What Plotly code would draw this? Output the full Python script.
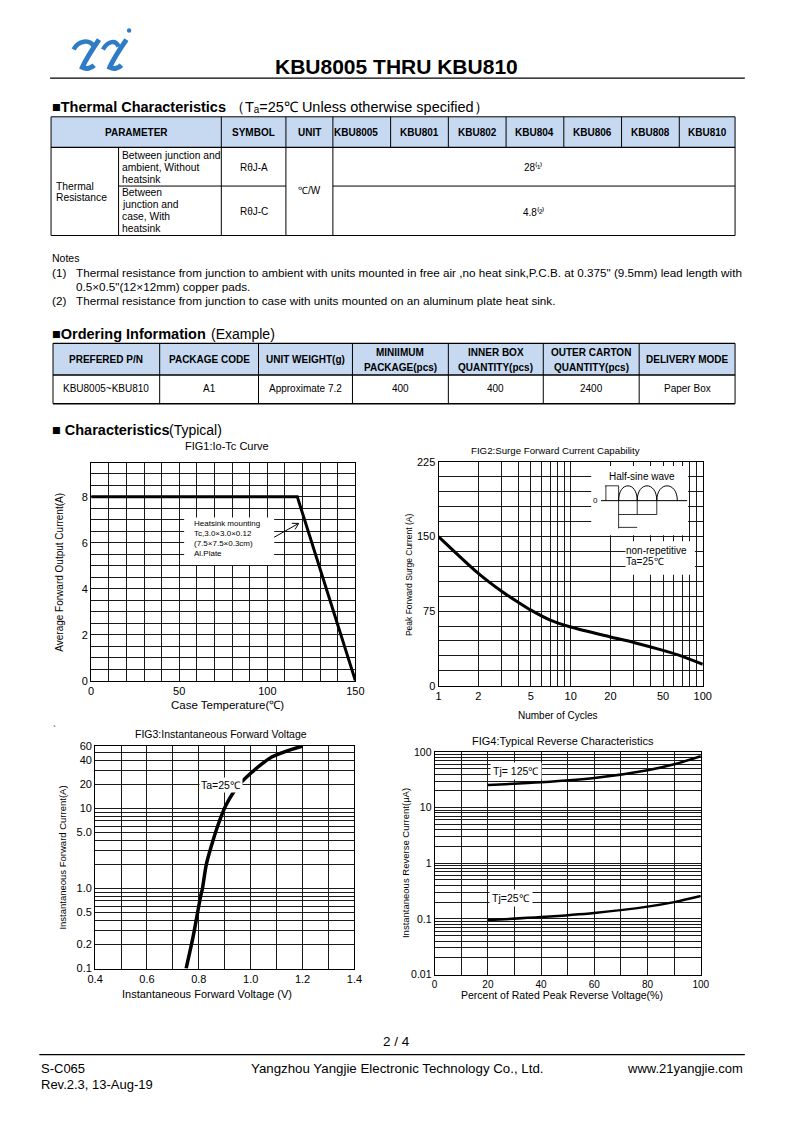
import math
import plotly.graph_objects as go

W, H = 793, 1122
FONT = "Liberation Sans"
HEAD_BLUE = "#C6D9F1"
LOGO_BLUE = "#2F7CC6"

# ---------------- data ----------------
thermal_header = ["PARAMETER", "SYMBOL", "UNIT", "KBU8005", "KBU801", "KBU802",
                  "KBU804", "KBU806", "KBU808", "KBU810"]
thermal_row1_param = ["Between junction and", "ambient, Without", "heatsink"]
thermal_row2_param = ["Between", "junction and", "case, With", "heatsink"]
thermal_symbols = ["RθJ-A", "RθJ-C"]
thermal_unit = "℃/W"
thermal_values = ["28⁽¹⁾", "4.8⁽²⁾"]

order_header = [["PREFERED P/N"], ["PACKAGE CODE"], ["UNIT WEIGHT(g)"],
                ["MINIIMUM", "PACKAGE(pcs)"], ["INNER BOX", "QUANTITY(pcs)"],
                ["OUTER CARTON", "QUANTITY(pcs)"], ["DELIVERY MODE"]]
order_row = ["KBU8005~KBU810", "A1", "Approximate 7.2", "400", "400", "2400", "Paper Box"]

# FIG1: Io - Tc
fig1_tc = [0, 117, 150]
fig1_io = [8, 8, 0]
# FIG2: surge current vs cycles
fig2_cycles = [1, 2, 3, 4, 5, 7, 10, 20, 30, 50, 70, 100]
fig2_ifsm = [150, 113, 95, 84, 76, 66, 59, 49, 43.5, 35.5, 29.5, 21.5]
# FIG3: forward voltage
fig3_vf = [0.751, 0.778, 0.807, 0.814, 0.829, 0.855, 0.880, 0.905, 0.957, 1.019, 1.083, 1.2]
fig3_if = [0.1, 0.25, 0.8, 1.0, 2.0, 4.0, 7.0, 11, 20, 31, 44, 60]
# FIG4: reverse characteristics
fig4_pct = [20, 40, 60, 80, 90, 100]
fig4_ir_125 = [25.5, 28.5, 34, 47, 60, 84]
fig4_ir_25 = [0.095, 0.108, 0.128, 0.166, 0.20, 0.257]

# ---------------- helpers (page pixel -> paper) ----------------
def px(x):
    return x / W


def py(y):
    return 1 - y / H


shapes = []
annotations = []


def seg(x0, y0, x1, y1, w=1, color="black"):
    shapes.append(dict(type="line", xref="paper", yref="paper", x0=px(x0), x1=px(x1),
                       y0=py(y0), y1=py(y1), line=dict(color=color, width=w)))


def hline(x0, x1, y, w=1, color="black"):
    seg(x0, y, x1, y, w, color)


def vline(x, y0, y1, w=1, color="black"):
    seg(x, y0, x, y1, w, color)


def rect(x0, y0, x1, y1, fill="white", lw=0, lc="black"):
    shapes.append(dict(type="rect", xref="paper", yref="paper", x0=px(x0), x1=px(x1),
                       y0=py(y0), y1=py(y1), fillcolor=fill,
                       line=dict(color=lc, width=lw)))


def path(d, w=1, color="black"):
    shapes.append(dict(type="path", xref="paper", yref="paper", path=d,
                       line=dict(color=color, width=w)))


def P(x, y):
    return f"{px(x):.5f},{py(y):.5f}"


def text(x, y, s, size=10, anchor="left", bold=False, color="black", angle=0,
         bg=None, family=FONT, pad=0):
    a = dict(xref="paper", yref="paper", x=px(x), y=py(y),
             text=(f"<b>{s}</b>" if bold else s), showarrow=False,
             xanchor=anchor, yanchor="middle", textangle=angle, borderpad=pad,
             font=dict(size=size, color=color, family=family))
    if bg:
        a["bgcolor"] = bg
    annotations.append(a)


# ---------------- header / logo ----------------
path(f"M{P(67, 44)} C{P(72, 35)} {P(83, 33)} {P(88, 41)}", w=4.5, color=LOGO_BLUE)
path(f"M{P(93, 34)} C{P(86, 44)} {P(80, 53)} {P(76, 62)} C{P(80, 64)} {P(85, 63)} {P(88, 60)}",
     w=5, color=LOGO_BLUE)
path(f"M{P(97, 44)} C{P(102, 35)} {P(110, 34)} {P(113, 41)}", w=4.5, color=LOGO_BLUE)
path(f"M{P(121, 34)} C{P(114, 44)} {P(108, 53)} {P(104, 62)} C{P(108, 64)} {P(113, 63)} {P(116, 60)}",
     w=5, color=LOGO_BLUE)
shapes.append(dict(type="circle", xref="paper", yref="paper", x0=px(121.5), x1=px(126),
                   y0=py(22.5), y1=py(27), fillcolor=LOGO_BLUE, line=dict(width=0)))

text(397, 61, "KBU8005 THRU KBU810", size=21, anchor="center", bold=True)
hline(43, 753, 73, w=1.2)

# ---------------- thermal characteristics ----------------
text(44, 102, "■Thermal Characteristics", size=14.5, bold=True)
text(226, 102, "（Tₐ=25℃ Unless otherwise specified）", size=14.5)

tx = [44, 218, 284, 332, 391, 450, 509, 568, 627, 686, 743]
ty0, ty1, ty2, ty3 = 112, 143, 182, 232
rect(44, ty0, 743, ty1, fill=HEAD_BLUE)
hline(44, 743, ty0)
hline(44, 743, ty1, w=1.3)
hline(44, 743, ty3)
for x in tx:
    vline(x, ty0, ty3 if x in (44, 218, 284, 332, 743) else ty1)
vline(113, ty1, ty3)
hline(113, 284, ty2)
hline(332, 743, ty2)
for i, lab in enumerate(thermal_header):
    cx = (tx[i] + tx[i + 1]) / 2
    if lab == "KBU8005":
        cx = 356
    text(cx, 128, lab, size=10, anchor="center", bold=True)
for k, line in enumerate(thermal_row1_param):
    text(115, 151 + 12 * k, line, size=10.3)
for k, line in enumerate(thermal_row2_param):
    text(115, 189 + 12 * k, line, size=10.3)
text(48, 182, "Thermal", size=10.3)
text(48, 194, "Resistance", size=10.3)
text(251, 163, thermal_symbols[0], size=10, anchor="center")
text(251, 208, thermal_symbols[1], size=10, anchor="center")
text(308, 187, thermal_unit, size=10, anchor="center")
text(537, 163, thermal_values[0], size=10, anchor="center")
text(537, 208, thermal_values[1], size=10, anchor="center")

# notes
text(44, 255, "Notes", size=10.5)
text(44, 269, "(1)", size=11.7)
text(68, 269, "Thermal resistance from junction to ambient with units mounted in free air ,no heat sink,P.C.B. at 0.375\" (9.5mm) lead length with", size=11.7)
text(68, 284, "0.5×0.5\"(12×12mm) copper pads.", size=11.7)
text(44, 298, "(2)", size=11.7)
text(68, 298, "Thermal resistance from junction to case with units mounted on an aluminum plate heat sink.", size=11.7)

# ---------------- ordering information ----------------
text(44, 332, "■Ordering Information", size=14.5, bold=True)
text(206, 332, "(Example)", size=14)
ox = [46, 155, 256, 352, 450, 547, 645, 743]
oy0, oy1, oy2 = 341, 373, 402
rect(46, oy0, 743, oy1, fill=HEAD_BLUE)
hline(46, 743, oy0, w=1.3)
hline(46, 743, oy1, w=1.3)
hline(46, 743, oy2, w=1.6)
for x in ox:
    vline(x, oy0, oy2)
for i, lines in enumerate(order_header):
    cx = (ox[i] + ox[i + 1]) / 2
    if len(lines) == 1:
        text(cx, 357, lines[0], size=10, anchor="center", bold=True)
    else:
        text(cx, 350, lines[0], size=10, anchor="center", bold=True)
        text(cx, 365, lines[1], size=10, anchor="center", bold=True)
for i, val in enumerate(order_row):
    cx = (ox[i] + ox[i + 1]) / 2
    text(cx, 387, val, size=10, anchor="center")

text(44, 429, "■ Characteristics", size=14.5, bold=True)
text(164, 429, "(Typical)", size=14)

# ---------------- figures ----------------
GRID = "#1a1a1a"
TICKF = dict(size=11, color="black", family=FONT)


def xaxis(x0, x1, **kw):
    d = dict(domain=[px(x0), px(x1)], showline=True, mirror=True, linecolor="black",
             linewidth=1, showgrid=True, gridcolor=GRID, gridwidth=1, zeroline=False,
             ticks="", tickfont=TICKF, fixedrange=True, tickmode="array")
    d.update(kw)
    return d


def yaxis(y_top, y_bot, **kw):
    d = dict(domain=[py(y_bot), py(y_top)], showline=True, mirror=True, linecolor="black",
             linewidth=1, showgrid=True, gridcolor=GRID, gridwidth=1, zeroline=False,
             ticks="", tickfont=TICKF, fixedrange=True, tickmode="array")
    d.update(kw)
    return d


def lab(vals, shown, fmt=str):
    return [fmt(v) if any(abs(v - s) < 1e-9 for s in shown) else "" for v in vals]


# grid positions
f1x = list(range(0, 151, 10))
f1y = [i * 0.5 for i in range(0, 19)]
f2x = [1, 2, 3, 4, 5, 6, 7, 8, 9, 10, 20, 30, 40, 50, 60, 70, 80, 90, 100]
f2y = list(range(0, 226, 15))
f3x = [round(0.4 + 0.1 * i, 1) for i in range(11)]
f3y = [round(m * 10 ** e, 3) for e in (-1, 0) for m in range(1, 10)] + [10, 20, 30, 40, 50, 60]
f4x = list(range(0, 101, 10))
f4y = [round(m * 10 ** e, 4) for e in (-2, -1, 0, 1) for m in range(1, 10)] + [100]

fig = go.Figure()
fig.add_trace(go.Scatter(x=fig1_tc, y=fig1_io, mode="lines", xaxis="x", yaxis="y",
                         line=dict(color="black", width=3), showlegend=False,
                         hoverinfo="skip"))
fig.add_trace(go.Scatter(x=fig2_cycles, y=fig2_ifsm, mode="lines", xaxis="x2", yaxis="y2",
                         line=dict(color="black", width=3, shape="spline", smoothing=0.8),
                         showlegend=False, hoverinfo="skip"))
fig.add_trace(go.Scatter(x=fig3_vf, y=fig3_if, mode="lines", xaxis="x3", yaxis="y3",
                         line=dict(color="black", width=3.5, shape="spline", smoothing=0.8),
                         showlegend=False, hoverinfo="skip"))
fig.add_trace(go.Scatter(x=fig4_pct, y=fig4_ir_125, mode="lines", xaxis="x4", yaxis="y4",
                         line=dict(color="black", width=2.5, shape="spline", smoothing=0.8),
                         showlegend=False, hoverinfo="skip"))
fig.add_trace(go.Scatter(x=fig4_pct, y=fig4_ir_25, mode="lines", xaxis="x4", yaxis="y4",
                         line=dict(color="black", width=2.5, shape="spline", smoothing=0.8),
                         showlegend=False, hoverinfo="skip"))

fig.update_layout(
    xaxis=xaxis(85, 355, anchor="y", range=[0, 150], tickvals=f1x,
                ticktext=lab(f1x, [0, 50, 100, 150])),
    yaxis=yaxis(462, 682, anchor="x", range=[0, 9.46], tickvals=f1y,
                ticktext=lab(f1y, [0, 2, 4, 6, 8], lambda v: str(int(v)))),
    xaxis2=xaxis(440, 710, anchor="y2", type="log", range=[0, 2], tickvals=f2x,
                 ticktext=lab(f2x, [1, 2, 5, 10, 20, 50, 100])),
    yaxis2=yaxis(461, 687, anchor="x2", range=[0, 225], tickvals=f2y,
                 ticktext=lab(f2y, [0, 75, 150, 225])),
    xaxis3=xaxis(89, 354, anchor="y3", range=[0.4, 1.4], tickvals=f3x,
                 ticktext=lab(f3x, [0.4, 0.6, 0.8, 1.0, 1.2, 1.4], lambda v: f"{v:.1f}")),
    yaxis3=yaxis(748, 973, anchor="x3", type="log", range=[-1, math.log10(60)],
                 tickvals=f3y,
                 ticktext=lab(f3y, [0.1, 0.2, 0.5, 1.0, 5.0, 10, 20, 40, 60],
                              lambda v: f"{v:.1f}" if v < 10 else str(int(v)))),
    xaxis4=xaxis(436, 708, anchor="y4", range=[0, 100], tickvals=f4x,
                 ticktext=lab(f4x, [0, 20, 40, 60, 80, 100]),
                 tickfont=dict(size=10, color="black", family=FONT)),
    yaxis4=yaxis(754, 979, anchor="x4", type="log", range=[-2, 2], tickvals=f4y,
                 ticktext=lab(f4y, [0.01, 0.1, 1, 10, 100], lambda v: f"{v:g}"),
                 tickfont=dict(size=10.5, color="black", family=FONT)),
)

# FIG1 decorations
text(224, 445, "FIG1:Io-Tc Curve", size=11, anchor="center")
text(53, 572, "Average Forward Output Current(A)", size=10, anchor="center", angle=-90)
text(224, 707, "Case Temperature(℃)", size=11.5, anchor="center")
rect(180, 517, 272, 565, fill="white")
text(189, 523, "Heatsink mounting", size=8)
text(189, 533, "Tc,3.0×3.0×0.12", size=8)
text(189, 543, "(7.5×7.5×0.3cm)", size=8)
text(189, 553, "Al.Plate", size=8)
ax0, ay0, ax1, ay1 = 272, 537, 297, 523
seg(ax0, ay0, ax1, ay1, w=1)
ang = math.atan2(ay1 - ay0, ax1 - ax0)
for d in (math.radians(150), math.radians(-150)):
    seg(ax1, ay1, ax1 + 7 * math.cos(ang + d), ay1 + 7 * math.sin(ang + d), w=1)

# FIG2 decorations
text(560, 449, "FIG2:Surge Forward Current Capability", size=9.7, anchor="center")
text(410, 575, "Peak Forward Surge Current (A)", size=8.5, anchor="center", angle=-90)
text(562, 717, "Number of Cycles", size=10, anchor="center")
rect(596, 465, 695, 535, fill="white")
rect(631, 541, 702, 575, fill="white")
text(648, 476, "Half-sine wave", size=10, anchor="center")
text(631, 550, "non-repetitive", size=10)
text(631, 562, "Ta=25℃", size=10)
text(600, 500, "0", size=8, anchor="center")
hline(606, 694, 500, w=1)
for a0, a1 in [(624, 643), (643, 663), (663, 684)]:
    path(f"M{P(a0, 500)} C{P(a0, 480)} {P(a1, 480)} {P(a1, 500)}", w=1)
hline(610, 624, 485, w=0.8)
vline(611, 485, 500, w=0.8)
vline(624, 485, 528, w=0.8)
vline(643, 500, 514, w=0.8)
vline(663, 500, 514, w=0.8)
hline(624, 663, 514, w=0.8)
hline(624, 643, 527, w=0.8)

# FIG3 decorations
text(218, 736, "FIG3:Instantaneous Forward Voltage", size=10.5, anchor="center")
text(56, 861, "Instantaneous Forward Current(A)", size=9.5, anchor="center", angle=-90)
text(203, 999, "Instantaneous Forward Voltage (V)", size=11, anchor="center")
text(218, 787, "Ta=25℃", size=10.5, anchor="center", bg="white", pad=1)
text(45, 731, "`", size=9)

# FIG4 decorations
text(567, 743, "FIG4:Typical Reverse Characteristics", size=11, anchor="center")
text(406, 866, "Instantaneous Reverse Current(μA)", size=9.5, anchor="center", angle=-90)
text(566, 1000, "Percent of Rated Peak Reverse Voltage(%)", size=10.5, anchor="center")
text(519, 773, "Tj= 125℃", size=10.5, anchor="center", bg="white", pad=2)
text(514, 902, "Tj=25℃", size=10.5, anchor="center", bg="white", pad=2)

# ---------------- footer ----------------
text(397, 1047, "2 / 4", size=13.5, anchor="center")
hline(32, 753, 1060, w=1.2)
text(33, 1074, "S-C065", size=13)
text(33, 1090, "Rev.2.3, 13-Aug-19", size=13)
text(398, 1074, "Yangzhou Yangjie Electronic Technology Co., Ltd.", size=13.3, anchor="center")
text(752, 1074, "www.21yangjie.com", size=13, anchor="right")

fig.update_layout(
    width=W, height=H, margin=dict(l=0, r=0, t=0, b=0),
    paper_bgcolor="white", plot_bgcolor="white",
    font=dict(family=FONT, color="black"),
    shapes=shapes, annotations=annotations, showlegend=False,
)

fig.write_html("out.html", config={"displayModeBar": False},
               post_script="document.body.style.margin='0';"
                           "document.body.style.overflow='hidden';")
